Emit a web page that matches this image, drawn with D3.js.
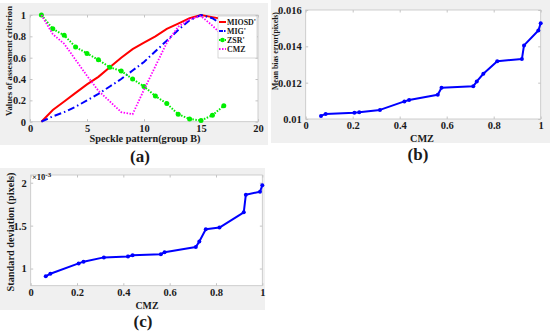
<!DOCTYPE html>
<html>
<head>
<meta charset="utf-8">
<script src="https://cdn.jsdelivr.net/npm/d3@7"></script>
<style>
  html, body { margin: 0; padding: 0; background: #fff; }
  svg { display: block; }
  text { font-family: "Liberation Serif", "Times New Roman", serif; font-weight: bold; fill: #1a1a1a; }
</style>
</head>
<body>
<div id="chart"></div>
<script>
// ---- data ----
// panel (a): speckle pattern index vs normalised criteria
var patterns = [1, 2, 3, 4, 5, 6, 7, 8, 9, 10, 11, 12, 13, 14, 15, 16, 17];
var miosd = [0, 0.11, 0.19, 0.27, 0.35, 0.42, 0.51, 0.60, 0.68, 0.74, 0.80, 0.87, 0.92, 0.97, 1.0, 0.98, 0.96];
var mig   = [0, 0.05, 0.09, 0.14, 0.20, 0.26, 0.33, 0.40, 0.48, 0.56, 0.66, 0.76, 0.86, 0.95, 1.0, 0.97, 0.90];
var zsr   = [1.0, 0.87, 0.81, 0.70, 0.64, 0.58, 0.51, 0.475, 0.40, 0.33, 0.24, 0.17, 0.07, 0.025, 0.012, 0.06, 0.15];
var cmz   = [1.0, 0.82, 0.73, 0.58, 0.43, 0.29, 0.19, 0.09, 0.07, 0.30, 0.52, 0.74, 0.89, 0.96, 0.99, 0.90, 0.80];
var seriesNames = ["MIOSD'", "MIG'", "ZSR'", "CMZ"];

// panels (b) and (c): CMZ vs mean bias error / standard deviation
var cmzSorted = [0.065, 0.085, 0.207, 0.228, 0.316, 0.42, 0.44, 0.562, 0.578, 0.713, 0.728, 0.756, 0.815, 0.92, 0.929, 0.99, 1.0];
var meanBias = [0.01017, 0.01028, 0.01035, 0.01037, 0.0105, 0.01097, 0.01105, 0.01134, 0.01172, 0.0118, 0.01207, 0.01249, 0.01318, 0.0133, 0.01405, 0.01487, 0.01527];
var stdDev = [0.91, 0.94, 1.06, 1.08, 1.13, 1.14, 1.155, 1.166, 1.19, 1.251, 1.314, 1.457, 1.477, 1.655, 1.86, 1.895, 1.97]; // x 1e-3

var ticksA_x = [0, 5, 10, 15, 20];
var ticksA_y = [0, 0.2, 0.4, 0.6, 0.8, 1];
var ticksCMZ = [0, 0.2, 0.4, 0.6, 0.8, 1];
var ticksB_y = [0.01, 0.012, 0.014, 0.016];
var ticksC_y = [1, 1.5, 2];

var W = 550, H = 333;
var svg = d3.select("#chart").append("svg").attr("width", W).attr("height", H);

var bg = "#f0f0f0", frameColor = "#c4c4c4";

// shrink a label until it is about as long as in the picture
function fit(sel, len, size) {
  sel.attr("font-size", size);
  var w = sel.node().getComputedTextLength();
  if (w > 0) sel.attr("font-size", (size * len / w).toFixed(2));
  return sel;
}

// draws the grey figure area, white axes box, ticks and labels
function panel(o) {
  svg.append("rect").attr("x", o.bg[0]).attr("y", o.bg[1])
    .attr("width", o.bg[2]).attr("height", o.bg[3]).attr("fill", bg);

  var x = d3.scaleLinear().domain(o.xDomain).range([o.left, o.right]);
  var y = d3.scaleLinear().domain(o.yDomain).range([o.bottom, o.top]);

  var g = svg.append("g");
  g.append("rect").attr("x", o.left).attr("y", o.top)
    .attr("width", o.right - o.left).attr("height", o.bottom - o.top)
    .attr("fill", "#fff").attr("stroke", frameColor).attr("stroke-width", 0.8);

  var fmt = function (d) { return String(+d.toFixed(4)); };

  var xa = g.append("g").attr("transform", "translate(0," + o.bottom + ")")
    .call(d3.axisBottom(x).tickValues(o.xTicks).tickFormat(fmt).tickSizeInner(-2.5).tickSizeOuter(0).tickPadding(3));
  var xt = g.append("g").attr("transform", "translate(0," + o.top + ")")
    .call(d3.axisTop(x).tickValues(o.xTicks).tickFormat("").tickSizeInner(-2.5).tickSizeOuter(0));
  var ya = g.append("g").attr("transform", "translate(" + o.left + ",0)")
    .call(d3.axisLeft(y).tickValues(o.yTicks).tickFormat(fmt).tickSizeInner(-2.5).tickSizeOuter(0).tickPadding(4));
  var yr = g.append("g").attr("transform", "translate(" + o.right + ",0)")
    .call(d3.axisRight(y).tickValues(o.yTicks).tickFormat("").tickSizeInner(-2.5).tickSizeOuter(0));

  [xa, xt, ya, yr].forEach(function (a) {
    a.select(".domain").remove();
    a.selectAll("line").attr("stroke", frameColor);
    a.selectAll("text").attr("font-size", 10.5).attr("fill", "#1a1a1a")
      .attr("font-family", "Liberation Serif, Times New Roman, serif").attr("font-weight", "bold");
  });

  fit(svg.append("text").attr("x", o.xLabel[0]).attr("y", o.xLabel[1])
    .attr("text-anchor", "middle").text(o.xLabel[2]), o.xLabel[3], 10);
  fit(svg.append("text").attr("transform", "translate(" + o.yLabel[0] + "," + o.yLabel[1] + ") rotate(-90)")
    .attr("text-anchor", "middle").attr("dy", "0.35em").text(o.yLabel[2]), o.yLabel[3], 10);
  svg.append("text").attr("x", o.tag[0]).attr("y", o.tag[1])
    .attr("text-anchor", "middle").attr("font-size", 17).text(o.tag[2]);

  return { g: g, x: x, y: y };
}

// ---------- (a) ----------
var pa = panel({
  bg: [0, 3, 268, 142],
  left: 30, right: 258, top: 15, bottom: 121.7,
  xDomain: [0, 20], yDomain: [0, 1],
  xTicks: ticksA_x, yTicks: ticksA_y,
  xLabel: [145, 142, "Speckle pattern(group B)", 111],
  yLabel: [8.5, 61, "Values of assessment criterion", 110],
  tag: [140, 162, "(a)"]
});

var styles = [
  { values: miosd, color: "#ff0000", width: 2, dash: null },
  { values: mig, color: "#0000ff", width: 2, dash: "7,3,1.5,3" },
  { values: zsr, color: "#00ee00", width: 2, dash: "1.5,1.5", marker: true },
  { values: cmz, color: "#ff00ff", width: 1.8, dash: "1.5,1.5" }
];

var lineA = d3.line()
  .x(function (d, i) { return pa.x(patterns[i]); })
  .y(function (d) { return pa.y(d); });

styles.forEach(function (s) {
  pa.g.append("path").datum(s.values)
    .attr("fill", "none").attr("stroke", s.color).attr("stroke-width", s.width)
    .attr("stroke-dasharray", s.dash).attr("d", lineA);
  if (s.marker) {
    pa.g.selectAll(null).data(s.values).enter().append("circle")
      .attr("cx", function (d, i) { return pa.x(patterns[i]); })
      .attr("cy", function (d) { return pa.y(d); })
      .attr("r", 2.5).attr("fill", s.color);
  }
});

// legend
var leg = pa.g.append("g");
leg.append("rect").attr("x", 218).attr("y", 16).attr("width", 39).attr("height", 42)
  .attr("fill", "#fff").attr("stroke", "#b0b0b0").attr("stroke-width", 0.5);
seriesNames.forEach(function (name, i) {
  var yy = 22 + i * 9, s = styles[i];
  leg.append("line").attr("x1", 219).attr("x2", 226).attr("y1", yy).attr("y2", yy)
    .attr("stroke", s.color).attr("stroke-width", s.width)
    .attr("stroke-dasharray", s.dash ? (i === 1 ? "4,1,1.5,1" : s.dash) : null);
  if (s.marker) leg.append("circle").attr("cx", 222.5).attr("cy", yy).attr("r", 2.3).attr("fill", s.color);
  var t = leg.append("text").attr("x", 227).attr("y", yy).attr("dy", "0.35em").text(name);
  if (i === 0) fit(t, 29, 9); else t.attr("font-size", leg.select("text").attr("font-size"));
});

// ---------- (b) ----------
var pb = panel({
  bg: [271, 0, 279, 143],
  left: 305.7, right: 540.7, top: 10, bottom: 119,
  xDomain: [0, 1], yDomain: [0.01, 0.016],
  xTicks: ticksCMZ, yTicks: ticksB_y,
  xLabel: [422, 142, "CMZ", 24],
  yLabel: [275, 51, "Mean bias error(pixels)", 78],
  tag: [418, 160, "(b)"]
});

function blueSeries(p, xs, ys) {
  var line = d3.line().x(function (d, i) { return p.x(xs[i]); }).y(function (d) { return p.y(d); });
  p.g.append("path").datum(ys).attr("fill", "none").attr("stroke", "#0000ff")
    .attr("stroke-width", 2).attr("stroke-linejoin", "round").attr("d", line);
  p.g.selectAll(null).data(ys).enter().append("circle")
    .attr("cx", function (d, i) { return p.x(xs[i]); })
    .attr("cy", function (d) { return p.y(d); })
    .attr("r", 2).attr("fill", "#0000ff");
}
blueSeries(pb, cmzSorted, meanBias);

// ---------- (c) ----------
var pc = panel({
  bg: [0, 168, 265, 142],
  left: 30.7, right: 262.3, top: 175, bottom: 285.7,
  xDomain: [0, 1], yDomain: [0.8, 2.09],
  xTicks: ticksCMZ, yTicks: ticksC_y,
  xLabel: [147, 309, "CMZ", 23],
  yLabel: [10, 232, "Standard deviation (pixels)", 119],
  tag: [143, 327, "(c)"]
});
blueSeries(pc, cmzSorted, stdDev);

// exponent label
var ex = svg.append("text").attr("x", 32).attr("y", 180).attr("font-size", 8.5)
  .attr("font-weight", "normal").attr("fill", "#333");
ex.append("tspan").text("\u00d710");
ex.append("tspan").attr("dy", -3).attr("font-size", 7).text("-3");
</script>
</body>
</html>
